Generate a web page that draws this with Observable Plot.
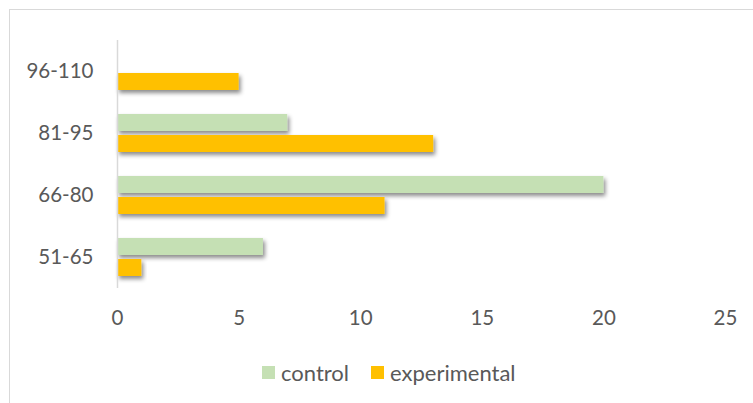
<!DOCTYPE html>
<html>
<head>
<meta charset="utf-8">
<script src="https://cdn.jsdelivr.net/npm/d3@7"></script>
<script src="https://cdn.jsdelivr.net/npm/@observablehq/plot@0.6"></script>
<style>
  html, body { margin: 0; padding: 0; background: #fff; overflow: hidden; width: 753px; height: 403px; }
  #frame { position: absolute; left: 9px; top: 9px; width: 800px; height: 500px; border-top: 1px solid #d9d9d9; border-left: 1px solid #d9d9d9; }
  #chart { position: absolute; left: 0; top: 0; }
  #legend { position: absolute; left: 262px; top: 359px; display: flex; font-family: Lato, "Open Sans", sans-serif; font-size: 22px; color: #595959; }
  .item { display: flex; align-items: center; margin-right: 22px; }
  .sw { width: 13px; height: 13px; margin-right: 6px; }
</style>
</head>
<body>
<div id="frame"></div>
<div id="chart"></div>
<div id="legend"></div>
<script>
const categories = ["96-110", "81-95", "66-80", "51-65"];
const series = ["control", "experimental"];
const controlValues = [0, 7, 20, 6];
const experimentalValues = [5, 13, 11, 1];
const xTicks = [0, 5, 10, 15, 20, 25];
const colors = ["#C5E0B4", "#FFC000"];

const data = [];
categories.forEach((c, i) => {
  data.push({category: c, series: "control", value: controlValues[i]});
  data.push({category: c, series: "experimental", value: experimentalValues[i]});
});

const chart = Plot.plot({
  width: 753,
  height: 340,
  marginLeft: 117,
  marginRight: 28,
  marginTop: 39,
  marginBottom: 52,
  style: {fontFamily: "Lato, 'Open Sans', sans-serif", fontSize: "20.5px", color: "#595959", background: "transparent"},
  x: {domain: [0, 25], ticks: xTicks, tickSize: 0, tickPadding: 22, label: null, axis: "bottom"},
  y: {domain: series, axis: null, paddingInner: 0.18, paddingOuter: 0.507},
  fy: {domain: categories, padding: 0, axis: "left", tickSize: 0, tickPadding: 24, label: null},
  color: {domain: series, range: colors},
  marks: [
    Plot.barX(data, {x: "value", y: "series", fy: "category", fill: "series"}),
    Plot.ruleX([0], {stroke: "#d9d9d9", strokeWidth: 1.5})
  ]
});
document.getElementById("chart").appendChild(chart);

// drop shadow on bars
const svg = chart.tagName.toLowerCase() === "svg" ? chart : chart.querySelector("svg");
const ns = "http://www.w3.org/2000/svg";
const defs = document.createElementNS(ns, "defs");
defs.innerHTML = '<filter id="shadow" x="-10%" y="-50%" width="130%" height="260%"><feDropShadow dx="2" dy="3" stdDeviation="2" flood-color="#000" flood-opacity="0.45"/></filter>';
svg.insertBefore(defs, svg.firstChild);
svg.querySelectorAll('g[aria-label="bar"] rect').forEach(r => r.setAttribute("filter", "url(#shadow)"));

// legend
const legend = document.getElementById("legend");
series.forEach((s, i) => {
  const item = document.createElement("div");
  item.className = "item";
  const sw = document.createElement("div");
  sw.className = "sw";
  sw.style.background = colors[i];
  const t = document.createElement("span");
  t.textContent = s;
  item.appendChild(sw);
  item.appendChild(t);
  legend.appendChild(item);
});
</script>
</body>
</html>
